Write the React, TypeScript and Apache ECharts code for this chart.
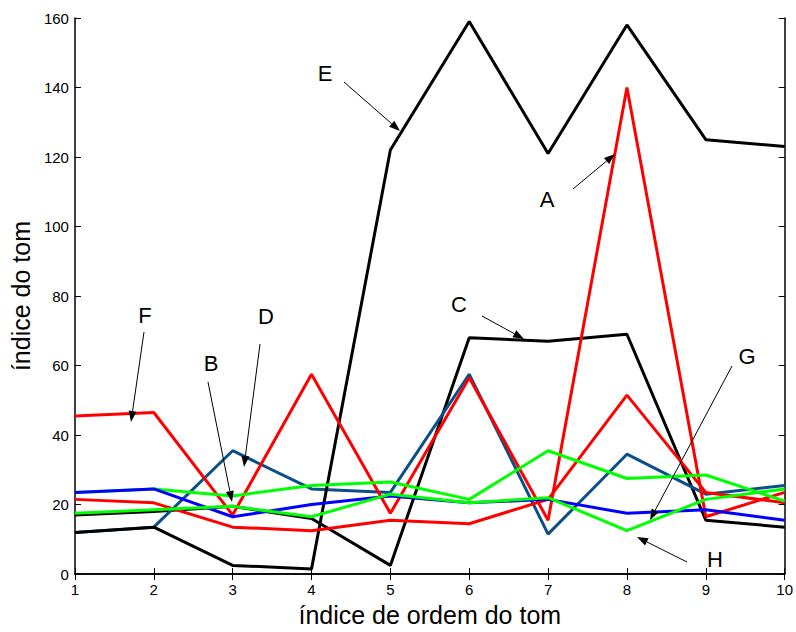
import React, { useEffect, useRef } from "react";
import * as echarts from "echarts";

const xValues = [1, 2, 3, 4, 5, 6, 7, 8, 9, 10];
const xTicks = ["1", "2", "3", "4", "5", "6", "7", "8", "9", "10"];
const yTicks = ["0", "20", "40", "60", "80", "100", "120", "140", "160"];

const seriesE = [12, 13.5, 2.5, 1.5, 122, 159, 121, 158, 125, 123];
const seriesC = [17, 18, 19.5, 16, 2.5, 68, 67, 69, 15.5, 13.5];
const seriesD = [12, 13.5, 35.5, 24.5, 23.5, 57.5, 11.5, 34.5, 23, 25.5];
const seriesBlue = [23.5, 24.5, 16.5, 20, 22.5, 20.5, 21.5, 17.5, 18.5, 15.5];
const seriesGreenUpper = [23.5, 24.5, 22.5, 25.5, 26.5, 21.5, 35.5, 27.5, 28.5, 21];
const seriesGreenLower = [17.5, 18.5, 19.5, 16.5, 23, 20.5, 22, 12.5, 21.5, 24.5];
const seriesRedPeak = [45.5, 46.5, 17, 57.5, 17.5, 56.5, 15.5, 140, 16.5, 23.5];
const seriesRedLow = [21.5, 20.5, 13.5, 12.5, 15.5, 14.5, 21.5, 51.5, 23.5, 20.5];

const xName = "índice de ordem do tom";
const yName = "índice do tom";

// annotation labels (text position, arrow start, arrow tip) in page pixels
const annotations = [
  { label: "E", tx: 325, ty: 73, x1: 344, y1: 82, x2: 400, y2: 131 },
  { label: "A", tx: 547, ty: 199, x1: 573, y1: 189, x2: 615, y2: 154 },
  { label: "C", tx: 459, ty: 304, x1: 482, y1: 316, x2: 524, y2: 339 },
  { label: "F", tx: 145, ty: 315, x1: 144, y1: 332, x2: 131, y2: 422 },
  { label: "D", tx: 266, ty: 316, x1: 260, y1: 344, x2: 244, y2: 467 },
  { label: "B", tx: 211, ty: 363, x1: 208, y1: 382, x2: 232, y2: 502 },
  { label: "G", tx: 747, ty: 356, x1: 732, y1: 366, x2: 650, y2: 520 },
  { label: "H", tx: 715, ty: 559, x1: 687, y1: 562, x2: 637, y2: 537 },
];

const FONT = "'Liberation Sans', Arial, Helvetica, sans-serif";

function pairs(vals: number[]) {
  return vals.map((v, i) => [xValues[i], v]);
}

function arrowGraphics() {
  const out: any[] = [];
  annotations.forEach((a) => {
    out.push({
      type: "text",
      x: a.tx,
      y: a.ty,
      z: 100,
      style: {
        text: a.label,
        fill: "#000",
        font: `22px ${FONT}`,
        textAlign: "center",
        textVerticalAlign: "middle",
      },
    });
    const dx = a.x2 - a.x1;
    const dy = a.y2 - a.y1;
    const len = Math.sqrt(dx * dx + dy * dy);
    const ux = dx / len;
    const uy = dy / len;
    const hl = 11;
    const hw = 4;
    const bx = a.x2 - ux * hl;
    const by = a.y2 - uy * hl;
    out.push({
      type: "line",
      z: 100,
      shape: { x1: a.x1, y1: a.y1, x2: bx, y2: by },
      style: { stroke: "#000", lineWidth: 1 },
    });
    out.push({
      type: "polygon",
      z: 100,
      shape: {
        points: [
          [a.x2, a.y2],
          [bx - uy * hw, by + ux * hw],
          [bx + uy * hw, by - ux * hw],
        ],
      },
      style: { fill: "#000" },
    });
  });
  return out;
}

export default function App() {
  const ref = useRef<HTMLDivElement>(null);
  useEffect(() => {
    if (!ref.current) return;
    const chart = echarts.init(ref.current, null, { renderer: "svg" });
    const mk = (name: string, data: number[], color: string) => ({
      name,
      type: "line",
      data: pairs(data),
      showSymbol: false,
      symbol: "none",
      lineStyle: { color, width: 3 },
      itemStyle: { color },
      xAxisIndex: 0,
      yAxisIndex: 0,
    });
    const axisLineStyle = { color: "#000", width: 1.5 };
    chart.setOption({
      animation: false,
      backgroundColor: "#fff",
      textStyle: { fontFamily: FONT },
      grid: { left: 72, right: 8, top: 18, bottom: 48, containLabel: false },
      xAxis: [
        {
          type: "value",
          min: 1,
          max: 10,
          interval: 1,
          position: "bottom",
          name: xName,
          nameLocation: "middle",
          nameGap: 25,
          nameTextStyle: { fontSize: 25, color: "#000", fontFamily: FONT },
          axisLine: { show: true, lineStyle: axisLineStyle },
          axisTick: { show: true, inside: true, length: 6, lineStyle: { color: "#000", width: 1 } },
          axisLabel: {
            color: "#000",
            fontSize: 15,
            margin: 8,
            fontFamily: FONT,
            formatter: (v: number) => xTicks[Math.round(v) - 1] ?? "",
          },
          splitLine: { show: false },
        },
        {
          type: "value",
          min: 1,
          max: 10,
          interval: 1,
          position: "top",
          axisLine: { show: true, lineStyle: axisLineStyle },
          axisTick: { show: true, inside: true, length: 6, lineStyle: { color: "#000", width: 1 } },
          axisLabel: { show: false },
          splitLine: { show: false },
        },
      ],
      yAxis: [
        {
          type: "value",
          min: 0,
          max: 160,
          interval: 20,
          position: "left",
          name: yName,
          nameLocation: "middle",
          nameGap: 39,
          nameRotate: 90,
          nameTextStyle: { fontSize: 25, color: "#000", fontFamily: FONT },
          axisLine: { show: true, lineStyle: axisLineStyle },
          axisTick: { show: true, inside: true, length: 6, lineStyle: { color: "#000", width: 1 } },
          axisLabel: {
            color: "#000",
            fontSize: 15,
            margin: 6,
            fontFamily: FONT,
            formatter: (v: number) => yTicks[Math.round(v / 20)] ?? "",
          },
          splitLine: { show: false },
        },
        {
          type: "value",
          min: 0,
          max: 160,
          interval: 20,
          position: "right",
          axisLine: { show: true, lineStyle: axisLineStyle },
          axisTick: { show: true, inside: true, length: 6, lineStyle: { color: "#000", width: 1 } },
          axisLabel: { show: false },
          splitLine: { show: false },
        },
      ],
      series: [
        mk("C", seriesC, "#000000"),
        mk("D", seriesD, "#0b4f8a"),
        mk("E", seriesE, "#000000"),
        mk("redLow", seriesRedLow, "#ff0000"),
        mk("redPeak", seriesRedPeak, "#ff0000"),
        mk("greenUpper", seriesGreenUpper, "#00ff00"),
        mk("blue", seriesBlue, "#0000ff"),
        mk("greenLower", seriesGreenLower, "#00ff00"),
      ],
      graphic: arrowGraphics(),
    });
    return () => chart.dispose();
  }, []);
  return (
    <div
      ref={ref}
      style={{ position: "fixed", left: 0, top: 0, width: 796, height: 632, background: "#fff" }}
    />
  );
}
